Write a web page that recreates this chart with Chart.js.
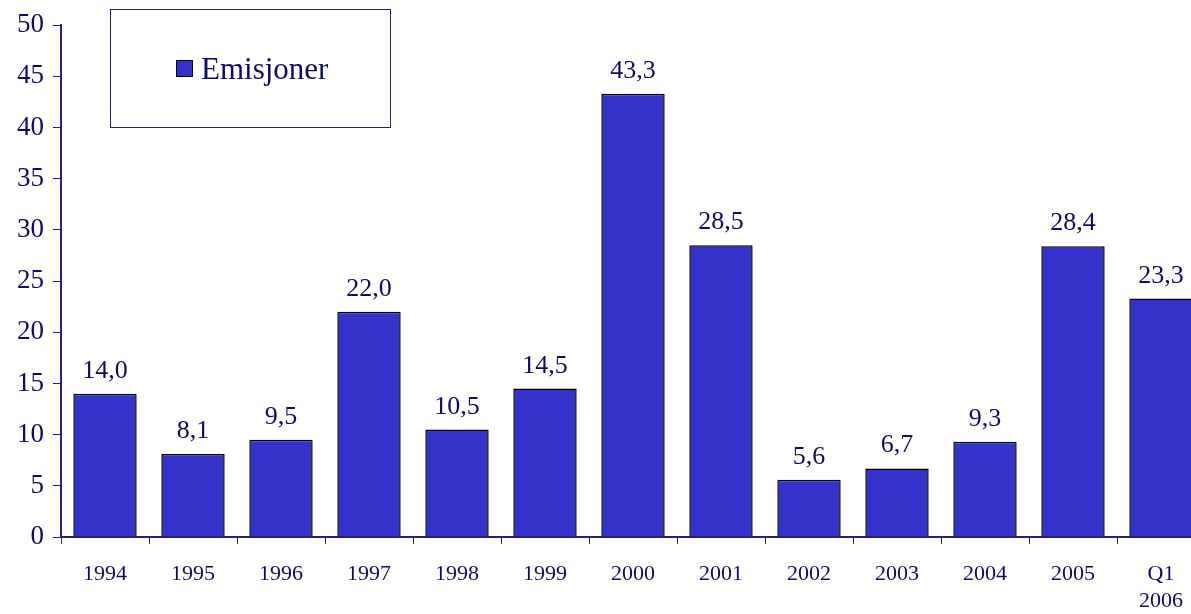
<!DOCTYPE html>
<html>
<head>
<meta charset="utf-8">
<script src="https://cdn.jsdelivr.net/npm/chart.js@4/dist/chart.umd.min.js"></script>
<style>
    html, body { margin: 0; padding: 0; overflow: hidden; background: #fff; }
    #wrap { width: 1210px; height: 614px; }
</style>
</head>
<body>
<div id="wrap"><canvas id="emisjonerChart" width="1210" height="614"></canvas></div>
<script>
const years = ["1994", "1995", "1996", "1997", "1998", "1999", "2000", "2001", "2002", "2003", "2004", "2005", ["Q1", "2006"]];
const emisjoner = [14.0, 8.1, 9.5, 22.0, 10.5, 14.5, 43.3, 28.5, 5.6, 6.7, 9.3, 28.4, 23.3];
const yTicks = [0, 5, 10, 15, 20, 25, 30, 35, 40, 45, 50];

const textColor = "#0c0c66";
const axisColor = "#22227a";
const serif = "'Liberation Serif', 'Times New Roman', serif";

const formatNO = (v) => v.toFixed(1).replace(".", ",");

// labels over each bar
const barLabels = {
    id: "barLabels",
    afterDatasetsDraw(chart) {
        const ctx = chart.ctx;
        const meta = chart.getDatasetMeta(0);
        ctx.save();
        ctx.font = `26px ${serif}`;
        ctx.fillStyle = textColor;
        ctx.textAlign = "center";
        ctx.textBaseline = "alphabetic";
        meta.data.forEach((bar, i) => {
            ctx.fillText(formatNO(emisjoner[i]), bar.x, bar.y - 16);
        });
        ctx.restore();
    }
};

// boxed legend like the original
const boxLegend = {
    id: "boxLegend",
    afterDraw(chart) {
        const ctx = chart.ctx;
        ctx.save();
        ctx.strokeStyle = axisColor;
        ctx.lineWidth = 1;
        ctx.strokeRect(110.5, 9.5, 280, 118);
        ctx.fillStyle = "#3333cc";
        ctx.fillRect(176, 60, 17, 17);
        ctx.strokeStyle = "#000";
        ctx.strokeRect(176.5, 60.5, 16, 16);
        ctx.font = `31px ${serif}`;
        ctx.fillStyle = textColor;
        ctx.textBaseline = "alphabetic";
        ctx.fillText(chart.data.datasets[0].label, 201, 79);
        ctx.restore();
    }
};

new Chart(document.getElementById("emisjonerChart"), {
    type: "bar",
    data: {
        labels: years,
        datasets: [{
            label: "Emisjoner",
            data: emisjoner,
            backgroundColor: "#3333cc",
            borderColor: "#000000",
            borderWidth: 1.5,
            borderSkipped: "bottom",
            categoryPercentage: 1,
            barPercentage: 0.72
        }]
    },
    options: {
        responsive: false,
        animation: false,
        layout: { padding: { top: 24, left: 0, right: 5, bottom: 0 } },
        plugins: {
            legend: { display: false },
            tooltip: { enabled: false }
        },
        scales: {
            x: {
                grid: {
                    offset: true,
                    drawOnChartArea: false,
                    tickLength: 7,
                    color: axisColor
                },
                border: { color: axisColor, width: 2 },
                ticks: {
                    color: textColor,
                    font: { family: serif, size: 22, lineHeight: 1.25 },
                    padding: 16,
                    maxRotation: 0,
                    autoSkip: false
                },
                afterFit(scale) { scale.height = 77; }
            },
            y: {
                min: 0,
                max: 50,
                afterBuildTicks(scale) { scale.ticks = yTicks.map((v) => ({ value: v })); },
                grid: {
                    drawOnChartArea: false,
                    tickLength: 8,
                    color: axisColor
                },
                border: { color: axisColor, width: 2 },
                ticks: {
                    color: textColor,
                    font: { family: serif, size: 27 },
                    padding: 9
                },
                afterFit(scale) { scale.width = 61; }
            }
        }
    },
    plugins: [barLabels, boxLegend]
});
</script>
</body>
</html>
